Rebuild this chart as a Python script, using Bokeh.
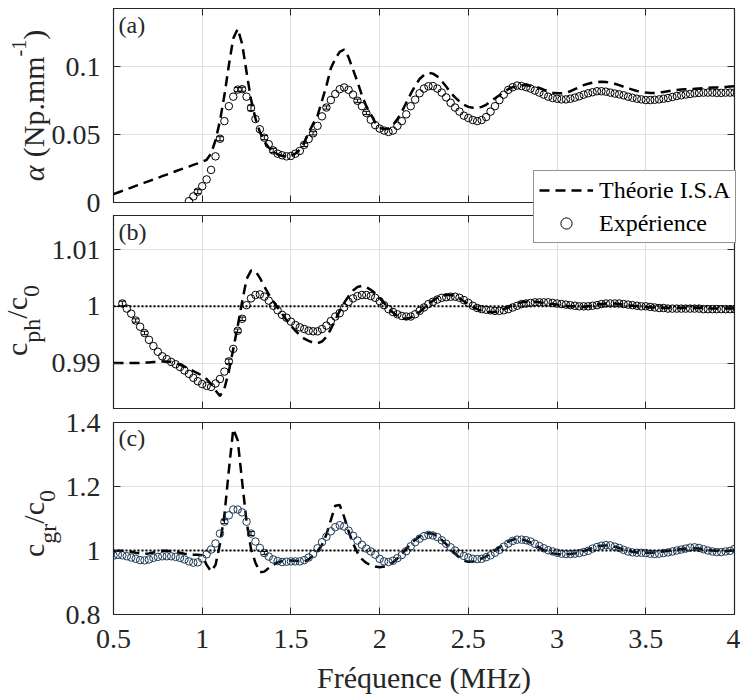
import math
from bokeh.plotting import figure
from bokeh.models import (Range1d, LinearAxis, FixedTicker, Span, Legend, LegendItem,
                          Label, Whisker, ColumnDataSource)
from bokeh.layouts import column
from bokeh.embed import file_html
from bokeh.resources import INLINE
from bokeh.core.properties import value

# ---------------- data ----------------
freq = [
    0.5, 0.525, 0.55, 0.575, 0.6, 0.625, 0.65, 0.675, 0.7, 0.725,
    0.75, 0.775, 0.8, 0.825, 0.85, 0.875, 0.9, 0.925, 0.95, 0.975,
    1.0, 1.025, 1.05, 1.075, 1.1, 1.125, 1.15, 1.175, 1.2, 1.225,
    1.25, 1.275, 1.3, 1.325, 1.35, 1.375, 1.4, 1.425, 1.45, 1.475,
    1.5, 1.525, 1.55, 1.575, 1.6, 1.625, 1.65, 1.675, 1.7, 1.725,
    1.75, 1.775, 1.8, 1.825, 1.85, 1.875, 1.9, 1.925, 1.95, 1.975,
    2.0, 2.025, 2.05, 2.075, 2.1, 2.125, 2.15, 2.175, 2.2, 2.225,
    2.25, 2.275, 2.3, 2.325, 2.35, 2.375, 2.4, 2.425, 2.45, 2.475,
    2.5, 2.525, 2.55, 2.575, 2.6, 2.625, 2.65, 2.675, 2.7, 2.725,
    2.75, 2.775, 2.8, 2.825, 2.85, 2.875, 2.9, 2.925, 2.95, 2.975,
    3.0, 3.025, 3.05, 3.075, 3.1, 3.125, 3.15, 3.175, 3.2, 3.225,
    3.25, 3.275, 3.3, 3.325, 3.35, 3.375, 3.4, 3.425, 3.45, 3.475,
    3.5, 3.525, 3.55, 3.575, 3.6, 3.625, 3.65, 3.675, 3.7, 3.725,
    3.75, 3.775, 3.8, 3.825, 3.85, 3.875, 3.9, 3.925, 3.95, 3.975,
    4.0,
]

# (a) attenuation, Np/mm  -- experiment starts at 0.925 MHz
alpha_exp = [
    0.001, 0.0045, 0.008,
    0.012, 0.017, 0.024, 0.034, 0.047, 0.060, 0.071, 0.078, 0.0832, 0.0835,
    0.078, 0.0697, 0.0615, 0.054, 0.0478, 0.043, 0.0384, 0.036, 0.0348, 0.034,
    0.0343, 0.036, 0.038, 0.0425, 0.0468, 0.051, 0.0565, 0.0635, 0.070, 0.0755,
    0.080, 0.0835, 0.0848, 0.083, 0.0795, 0.075, 0.071, 0.066, 0.061, 0.057,
    0.0545, 0.053, 0.052, 0.053, 0.0565, 0.060, 0.065, 0.071, 0.0758, 0.0805,
    0.084, 0.0857, 0.0858, 0.084, 0.081, 0.0775, 0.0735, 0.070, 0.067, 0.064,
    0.0623, 0.0608, 0.060, 0.0608, 0.063, 0.067, 0.071, 0.0755, 0.0795, 0.083,
    0.085, 0.0862, 0.0858, 0.085, 0.084, 0.0825, 0.081, 0.0795, 0.078, 0.077,
    0.0765, 0.076, 0.076, 0.0765, 0.0773, 0.0783, 0.0795, 0.0805, 0.0813, 0.082,
    0.082, 0.0817, 0.081, 0.0803, 0.0797, 0.079, 0.078, 0.0772, 0.0765, 0.076,
    0.0755, 0.0755, 0.0757, 0.076, 0.0765, 0.077, 0.0778, 0.0785, 0.079, 0.0796,
    0.080, 0.0805, 0.0808, 0.081, 0.081, 0.081, 0.0808, 0.0808, 0.081, 0.081,
    0.081,
]
alpha_th = [
    0.0062, 0.0074, 0.0086, 0.0098, 0.011, 0.0122, 0.0134, 0.0146, 0.0158, 0.017,
    0.0182, 0.0194, 0.0206, 0.0218, 0.023, 0.0242, 0.0254, 0.0265, 0.0277, 0.0288,
    0.030, 0.0315, 0.036, 0.046, 0.060, 0.079, 0.101, 0.121, 0.128, 0.117,
    0.096, 0.076, 0.062, 0.052, 0.045, 0.0405, 0.0375, 0.0355, 0.0345, 0.034,
    0.0345, 0.036, 0.039, 0.044, 0.0515, 0.058, 0.064, 0.075, 0.086, 0.099,
    0.106, 0.111, 0.1128, 0.107, 0.098, 0.089, 0.079, 0.071, 0.065, 0.059,
    0.0555, 0.054, 0.0545, 0.057, 0.0615, 0.067, 0.0735, 0.080, 0.086, 0.091,
    0.094, 0.0955, 0.095, 0.093, 0.0895, 0.0855, 0.081, 0.0775, 0.0745, 0.072,
    0.0705, 0.0698, 0.0697, 0.0705, 0.072, 0.0745, 0.0768, 0.079, 0.0815, 0.0835,
    0.085, 0.086, 0.0865, 0.0865, 0.086, 0.0855, 0.0845, 0.0832, 0.082, 0.081,
    0.0805, 0.0805, 0.081, 0.082, 0.0835, 0.085, 0.0865, 0.0875, 0.0883, 0.0888,
    0.089, 0.0888, 0.0883, 0.0875, 0.0865, 0.0853, 0.0842, 0.0832, 0.0822, 0.0815,
    0.081, 0.0808, 0.0808, 0.081, 0.0815, 0.082, 0.0825, 0.083, 0.0833, 0.0835,
    0.0837, 0.0838, 0.084, 0.0842, 0.0845, 0.0847, 0.0848, 0.085, 0.0852, 0.0855,
    0.0857,
]

# (b) phase velocity ratio -- experiment starts at 0.55 MHz
cph_exp = [
    1.0005, 0.9996, 0.9987, 0.9975, 0.9964, 0.9953, 0.9941, 0.993,
    0.992, 0.9912, 0.9907, 0.9902, 0.9898, 0.9893, 0.9887, 0.9881, 0.9874, 0.9868,
    0.9863, 0.986, 0.9858, 0.9864, 0.9872, 0.9885, 0.9903, 0.9925, 0.9957, 0.9978,
    1.0002, 1.0014, 1.002, 1.0021, 1.0017, 1.001, 1.0001, 0.9993, 0.9985, 0.998,
    0.9973, 0.9967, 0.9963, 0.996, 0.9957, 0.9956, 0.9956, 0.996, 0.9966, 0.9974,
    0.9982, 0.9988, 0.9998, 1.0008, 1.0014, 1.0018, 1.002, 1.002, 1.0018, 1.0015,
    1.0009, 1.0002, 0.9995, 0.999, 0.9986, 0.9983, 0.9982, 0.9982, 0.9986, 0.9992,
    0.9998, 1.0004, 1.0008, 1.0012, 1.0015, 1.0016, 1.0017, 1.0017, 1.0015, 1.0011,
    1.0006, 1.0001, 0.9997, 0.9995, 0.9994, 0.9993, 0.9992, 0.9992, 0.9993, 0.9995,
    0.9998, 1.0001, 1.0004, 1.0005, 1.0006, 1.0007, 1.0007, 1.0007, 1.0007, 1.0006,
    1.0005, 1.0004, 1.0003, 1.0002, 1.0001, 1.0, 1.0, 1.0, 1.0001, 1.0002,
    1.0004, 1.0005, 1.0005, 1.0005, 1.0005, 1.0004, 1.0003, 1.0002, 1.0001, 1.0,
    1.0, 0.9999, 0.9998, 0.9997, 0.9997, 0.9996, 0.9996, 0.9996, 0.9996, 0.9996,
    0.9996, 0.9996, 0.9996, 0.9995, 0.9995, 0.9995, 0.9995, 0.9995, 0.9995, 0.9995,
    0.9995,
]
cph_th = [
    0.990, 0.990, 0.990, 0.990, 0.990, 0.990, 0.990, 0.9901, 0.9901, 0.9902,
    0.9902, 0.9903, 0.9903, 0.9902, 0.990, 0.9897, 0.9894, 0.989, 0.9886, 0.9882,
    0.9878, 0.9872, 0.9863, 0.9852, 0.9842, 0.9855, 0.9885, 0.9925, 0.9965, 1.0008,
    1.0048, 1.0063, 1.0062, 1.005, 1.0035, 1.0021, 1.0009, 0.9998, 0.9987, 0.9976,
    0.9966, 0.9957, 0.9949, 0.9943, 0.9939, 0.9936, 0.9935, 0.9938, 0.9946, 0.996,
    0.9976, 0.9992, 1.0006, 1.0018, 1.0028, 1.0034, 1.0036, 1.0034, 1.0029, 1.0023,
    1.0015, 1.0006, 0.9997, 0.9989, 0.9983, 0.9979, 0.9978, 0.998, 0.9984, 0.999,
    0.9997, 1.0004, 1.001, 1.0015, 1.0018, 1.002, 1.002, 1.0018, 1.0014, 1.0009,
    1.0004, 0.9999, 0.9995, 0.9992, 0.999, 0.999, 0.999, 0.9992, 0.9995, 0.9998,
    1.0002, 1.0005, 1.0007, 1.0008, 1.0008, 1.0008, 1.0007, 1.0006, 1.0005, 1.0004,
    1.0003, 1.0002, 1.0001, 1.0, 1.0, 0.9999, 0.9999, 1.0, 1.0001, 1.0003,
    1.0004, 1.0005, 1.0005, 1.0005, 1.0004, 1.0003, 1.0002, 1.0001, 1.0, 0.9999,
    0.9999, 0.9998, 0.9998, 0.9998, 0.9997, 0.9997, 0.9997, 0.9997, 0.9997, 0.9997,
    0.9997, 0.9997, 0.9997, 0.9997, 0.9996, 0.9996, 0.9996, 0.9996, 0.9996, 0.9996,
    0.9996,
]

# (c) group velocity ratio
cgr_exp = [
    0.984, 0.9865, 0.985, 0.982, 0.978, 0.974, 0.970, 0.969, 0.972, 0.977,
    0.980, 0.982, 0.982, 0.982, 0.980, 0.977, 0.972, 0.966, 0.962, 0.963,
    0.975, 0.988, 1.003, 1.022, 1.053, 1.09, 1.11, 1.128, 1.128, 1.119,
    1.09, 1.053, 1.028, 1.008, 0.992, 0.981, 0.972, 0.967, 0.964, 0.965,
    0.966, 0.966, 0.966, 0.970, 0.978, 0.989, 1.007, 1.026, 1.043, 1.060,
    1.073, 1.079, 1.075, 1.062, 1.046, 1.031, 1.018, 1.006, 0.997, 0.987,
    0.974, 0.966, 0.964, 0.968, 0.976, 0.986, 0.998, 1.013, 1.026, 1.037,
    1.045, 1.049, 1.047, 1.042, 1.032, 1.021, 1.010, 1.000, 0.990, 0.983,
    0.978, 0.974, 0.973, 0.974, 0.979, 0.985, 0.993, 1.002, 1.012, 1.022,
    1.030, 1.034, 1.034, 1.032, 1.028, 1.021, 1.014, 1.007, 1.001, 0.997,
    0.993, 0.990, 0.989, 0.989, 0.990, 0.992, 0.995, 0.999, 1.006, 1.011,
    1.015, 1.017, 1.016, 1.012, 1.008, 1.002, 0.997, 0.994, 0.993, 0.993,
    0.992, 0.990, 0.989, 0.990, 0.992, 0.994, 0.997, 1.000, 1.003, 1.006,
    1.009, 1.010, 1.008, 1.004, 1.000, 0.997, 0.995, 0.995, 0.997, 0.999,
    1.005,
]
cgr_th = [
    0.998, 0.999, 0.999, 0.998, 0.996, 0.993, 0.991, 0.990, 0.991, 0.994,
    0.997, 0.999, 0.999, 0.998, 0.996, 0.993, 0.990, 0.988, 0.987, 0.987,
    0.985, 0.955, 0.935, 0.955, 1.020, 1.110, 1.250, 1.380, 1.345, 1.215,
    1.090, 1.005, 0.962, 0.932, 0.934, 0.945, 0.955, 0.963, 0.967, 0.969,
    0.969, 0.968, 0.966, 0.965, 0.972, 0.985, 0.998, 1.018, 1.050, 1.095,
    1.140, 1.142, 1.105, 1.060, 1.022, 0.993, 0.973, 0.961, 0.954, 0.950,
    0.948, 0.950, 0.955, 0.963, 0.975, 0.990, 1.005, 1.020, 1.033, 1.044,
    1.051, 1.054, 1.052, 1.045, 1.033, 1.020, 1.005, 0.990, 0.978, 0.968,
    0.965, 0.966, 0.970, 0.975, 0.982, 0.990, 1.000, 1.010, 1.020, 1.028,
    1.034, 1.036, 1.035, 1.031, 1.025, 1.017, 1.009, 1.001, 0.995, 0.991,
    0.989, 0.988, 0.988, 0.989, 0.991, 0.994, 0.998, 1.003, 1.008, 1.012,
    1.015, 1.016, 1.015, 1.012, 1.008, 1.003, 0.999, 0.996, 0.994, 0.993,
    0.993, 0.993, 0.994, 0.995, 0.997, 0.999, 1.001, 1.003, 1.005, 1.006,
    1.007, 1.007, 1.006, 1.004, 1.002, 1.000, 0.999, 0.998, 0.998, 0.999,
    1.000,
]

alpha_exp_freq = freq[17:]
cph_exp_freq = freq[2:]
cgr_exp_freq = freq

# error bars (frequency, half width)
alpha_err_freq = [0.975, 1.1, 1.2, 1.225, 1.275, 1.35, 1.4, 1.575, 1.625, 1.7, 1.875, 1.925]
alpha_err = [0.0015, 0.0015, 0.0015, 0.0015, 0.002, 0.0015, 0.0015, 0.0012, 0.0012, 0.0012, 0.0012, 0.0012]
cph_err_freq = [0.55, 0.625, 0.675, 1.15, 1.2, 1.225]
cph_err = [0.0004, 0.0003, 0.0003, 0.0004, 0.0003, 0.0003]
cgr_err_freq = [1.125, 1.275, 1.35]
cgr_err = [0.006, 0.006, 0.005]

x_ticks = [0.5, 1.0, 1.5, 2.0, 2.5, 3.0, 3.5, 4.0]
x_tick_labels = ["0.5", "1", "1.5", "2", "2.5", "3", "3.5", "4"]
alpha_ticks = [0.0, 0.05, 0.1]
alpha_tick_labels = ["0", "0.05", "0.1"]
cph_ticks = [0.99, 1.0, 1.01]
cph_tick_labels = ["0.99", "1", "1.01"]
cgr_ticks = [0.8, 1.0, 1.2, 1.4]
cgr_tick_labels = ["0.8", "1", "1.2", "1.4"]
ref_level = 1.0
legend_labels = ["Théorie I.S.A", "Expérience"]

# ---------------- styling ----------------
SERIF = "Liberation Serif"
INK = "#262626"
GRID = "#dfdfdf"
W = 740
PAGE_H = 696
TICK_FS = "28px"
DASH = "10 6"
DASH_W = 2.5

ADV = {"c": 0.444, "p": 0.5, "h": 0.5, "g": 0.5, "r": 0.333, "/": 0.278, "0": 0.5,
       "α": 0.55, " ": 0.25, "(": 0.333, ")": 0.333, "N": 0.722, ".": 0.25,
       "m": 0.778, "-": 0.333, "1": 0.5}


def tw(s, size):
    return sum(ADV.get(ch, 0.5) for ch in s) * size


def panel(height, top, bottom, yr, yticks, ylabels, show_x):
    p = figure(width=W, height=height, x_range=Range1d(0.5, 4.0), y_range=Range1d(*yr),
               output_backend="svg", toolbar_location=None,
               min_border_left=113, min_border_right=6,
               min_border_top=top, min_border_bottom=bottom)
    p.border_fill_color = None
    p.background_fill_color = "white"
    p.outline_line_color = INK
    p.outline_line_width = 1.2
    p.add_layout(LinearAxis(), "above")
    p.add_layout(LinearAxis(), "right")
    for ax in p.xaxis:
        ax.ticker = FixedTicker(ticks=x_ticks, minor_ticks=[])
        ax.major_label_overrides = dict(zip(x_ticks, x_tick_labels))
    for ax in p.yaxis:
        ax.ticker = FixedTicker(ticks=yticks, minor_ticks=[])
        ax.major_label_overrides = dict(zip(yticks, ylabels))
    for ax in p.axis:
        # tick-only axes (inside ticks on every side, MATLAB style); labels not drawn
        ax.axis_line_color = None
        ax.major_tick_in = 7
        ax.major_tick_out = 0
        ax.major_tick_line_color = INK
        ax.major_tick_line_width = 1
        ax.minor_tick_line_color = None
        ax.major_label_text_font = SERIF
        ax.major_label_text_font_size = "0px"
        ax.major_label_standoff = 0
        ax.major_label_text_color = None
    left = p.left[0]
    left.major_label_text_font_size = TICK_FS
    left.major_label_text_color = INK
    left.major_label_standoff = 13
    if show_x:
        b = p.below[0]
        b.major_label_text_font_size = TICK_FS
        b.major_label_text_color = INK
        b.major_label_standoff = 15
        b.axis_label = "Fréquence (MHz)"
        b.axis_label_text_font = SERIF
        b.axis_label_text_font_size = "30px"
        b.axis_label_text_font_style = "normal"
        b.axis_label_text_color = INK
        b.axis_label_standoff = 10
    p.xgrid.ticker = FixedTicker(ticks=x_ticks)
    p.ygrid.ticker = FixedTicker(ticks=yticks)
    p.grid.grid_line_color = GRID
    p.grid.grid_line_width = 1
    return p


def add_data(p, th, exp_f, exp_y, err_f, err_h, pt_color):
    r_th = p.line(freq, th, line_color="black", line_width=DASH_W, line_dash=DASH)
    r_pts = p.scatter(exp_f, exp_y, marker="circle", size=7.5, fill_color=None,
                      line_color=pt_color, line_width=1)
    lookup = dict(zip(exp_f, exp_y))
    centers = [lookup[f] for f in err_f]
    src = ColumnDataSource(dict(x=err_f,
                                lower=[c - e for c, e in zip(centers, err_h)],
                                upper=[c + e for c, e in zip(centers, err_h)]))
    w = Whisker(source=src, base="x", lower="lower", upper="upper", dimension="height",
                line_color="black", line_width=1)
    w.upper_head.size = 7
    w.lower_head.size = 7
    w.upper_head.line_color = "black"
    w.lower_head.line_color = "black"
    p.add_layout(w)
    return r_th, r_pts


def tag(p, txt, frame_h):
    p.add_layout(Label(x=5, y=frame_h - 3, x_units="screen", y_units="screen", text=txt,
                       text_baseline="top", text_align="left", text_font=SERIF,
                       text_font_size="24px", text_color=INK))


# (a)  frame 8..202 (canvas 0..218)
pa = panel(218, 8, 16, (0.0, 0.143), alpha_ticks, alpha_tick_labels, False)
add_data(pa, alpha_th, alpha_exp_freq, alpha_exp, alpha_err_freq, alpha_err, "black")
tag(pa, "(a)", 194)

# (b)  frame 215..408 (canvas 206..412)
pb = panel(206, 9, 4, (0.982, 1.016), cph_ticks, cph_tick_labels, False)
pb.add_layout(Span(location=ref_level, dimension="width", line_color="black",
                   line_width=2, line_dash="2 2"))
add_data(pb, cph_th, cph_exp_freq, cph_exp, cph_err_freq, cph_err, "black")
tag(pb, "(b)", 193)
pb.margin = (-12, 0, 0, 0)

# (c)  frame 422..615 (canvas 404..696)
pc = panel(292, 18, 81, (0.8, 1.4), cgr_ticks, cgr_tick_labels, True)
pc.add_layout(Span(location=ref_level, dimension="width", line_color="black",
                   line_width=2, line_dash="2 2"))
add_data(pc, cgr_th, cgr_exp_freq, cgr_exp, cgr_err_freq, cgr_err, "#1d3a56")
tag(pc, "(c)", 193)
pc.margin = (-8, 0, 0, 0)

# ---------------- overlay (y labels with sub/superscripts, legend) ----------------
fg = figure(width=W, height=PAGE_H, x_range=Range1d(0, W), y_range=Range1d(0, PAGE_H),
            output_backend="svg", toolbar_location=None,
            x_axis_location=None, y_axis_location=None,
            min_border_left=0, min_border_right=0, min_border_top=0, min_border_bottom=0)
fg.center = []
fg.frame_align = False
fg.outline_line_color = None
fg.background_fill_color = None
fg.border_fill_color = None
fg.margin = (-PAGE_H, 0, 0, 0)

BASE_SHIFT = 0.57   # empirical offset between label anchor and glyph baseline (x font size)


def ylabel(pieces, center_img_y):
    total = sum(tw(t, s) for t, s, bx, it in pieces)
    y = (PAGE_H - center_img_y) - total / 2
    for t, s, bx, it in pieces:
        stripped = t.lstrip()
        y += tw(t[:len(t) - len(stripped)], s)   # leading blanks are collapsed in SVG
        fg.add_layout(Label(x=bx - BASE_SHIFT * s, y=y, x_units="screen", y_units="screen",
                            text=stripped, angle=math.pi / 2, text_align="left",
                            text_baseline="alphabetic",
                            text_font=SERIF, text_font_size=f"{s}px",
                            text_font_style="italic" if it else "normal", text_color=INK))
        y += tw(stripped, s)


# pieces: (text, font px, baseline x in page px, italic)
ylabel([("α", 30, 50, True), (" (Np.mm", 30, 50, False), ("-1", 20, 30, False),
        (")", 30, 50, False)], 105)
ylabel([("c", 30, 33, False), ("ph", 24, 45, False), ("/c", 30, 33, False),
        ("0", 24, 45, False)], 320)
ylabel([("c", 30, 50, False), ("gr", 24, 61, False), ("/c", 30, 50, False),
        ("0", 24, 61, False)], 523)

# legend keys: hidden proxies carrying the panel (b) series
k_line = fg.line(cph_exp_freq, cph_exp, line_color="black", line_width=DASH_W,
                 line_dash=DASH, visible=False)
k_pts = fg.scatter(cph_exp_freq, cph_exp, marker="circle", size=7.5, fill_color=None,
                   line_color="black", line_width=1, visible=False)
legend = Legend(items=[LegendItem(label=value(legend_labels[0]), renderers=[k_line]),
                       LegendItem(label=value(legend_labels[1]), renderers=[k_pts])],
                location=(533, PAGE_H - 243), orientation="vertical",
                label_text_font=SERIF, label_text_font_size="24px", label_text_color="black",
                glyph_width=54, glyph_height=28, label_height=28, label_standoff=6,
                padding=5, spacing=5, margin=0,
                border_line_color=INK, border_line_width=1,
                background_fill_color="white", background_fill_alpha=1.0,
                inactive_fill_alpha=0.0)
fg.add_layout(legend)

layout = column(pa, pb, pc, fg, margin=(0, 0, -10, 0))
open("out.html", "w").write(file_html(layout, INLINE))
